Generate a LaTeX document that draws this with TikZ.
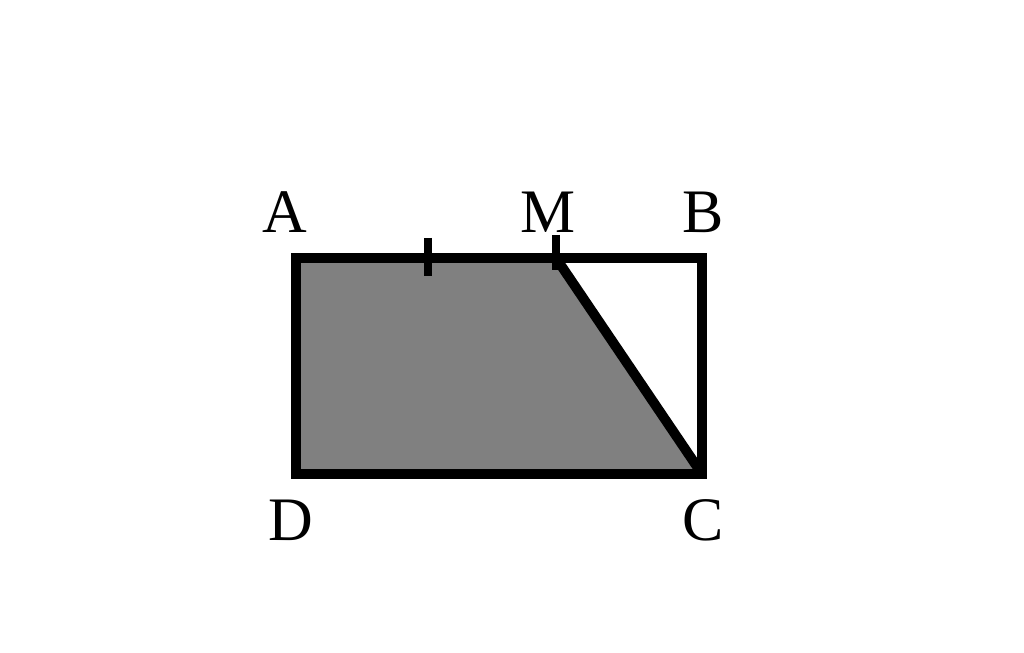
\documentclass[tikz,border=0pt]{standalone}
\usepackage{fontspec}
\setmainfont{Liberation Serif}
\usetikzlibrary{positioning,calc}

\begin{document}
\begin{tikzpicture}[x=1cm, y=1cm,
            every node/.style={inner sep=0pt, font=\fontsize{44}{44}\selectfont},
            edge/.style={draw, line width=7pt, line join=miter},
            tick/.style={draw, line width=5.5pt}]
        \useasboundingbox (0,0) rectangle (25.6,16.3);
        \coordinate (A) at (7.4,9.85);
        \coordinate (B) at (17.55,9.85);
        \coordinate (C) at (17.55,4.45);
        \coordinate (D) at (7.4,4.45);
        \coordinate (M) at (13.9,9.85);
        \coordinate (H) at (10.7,9.85);
        % shaded part
        \fill[gray] (A) -- (M) -- (C) -- (D) -- cycle;
        \draw[edge] (A) -- (B) -- (C) -- (D) -- cycle;
        \draw[edge, line cap=round] (M) -- (C);
        % equal marks
        \draw[tick] ($(H)+(0,0.5)$) -- ($(H)+(0,-0.45)$);
        \draw[tick] ($(M)+(0,0.58)$) -- ($(M)+(0,-0.3)$);
        % labels
        \node (lA) at (7.125,11.0) {A};
        \node (lM) at (13.7,11.0) {M};
        \node (lB) at (17.575,11.0) {B};
        \node (lD) at (7.275,3.3) {D};
        \node (lC) at (17.575,3.3) {C};
\end{tikzpicture}
\end{document}
